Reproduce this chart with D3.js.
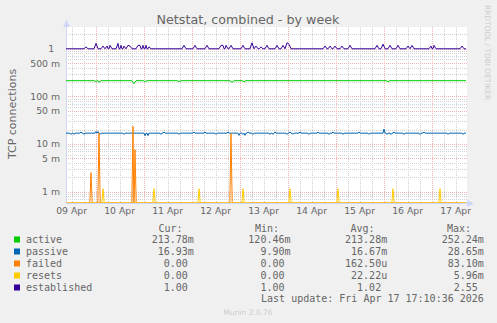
<!DOCTYPE html>
<html><head><meta charset="utf-8">
<script src="https://cdn.jsdelivr.net/npm/d3@7"></script>
<style>
html,body{margin:0;padding:0;background:#f0f0f0;overflow:hidden;}
svg{display:block;}
text{white-space:pre;}
</style></head><body>
<svg id="chart" width="497" height="323"></svg>
<script>
// ---------------- data ----------------
const endTime = "2026-04-17T17:10:36";
const spanHours = 200;           // width of the "by week" window
const dayLabels = ["2026-04-09","2026-04-10","2026-04-11","2026-04-12","2026-04-13","2026-04-14","2026-04-15","2026-04-16","2026-04-17"];
const yDomain = [0.000576, 2.87];
const yTickValues = [1, 0.5, 0.1, 0.05, 0.01, 0.005, 0.001];
const yTickLabels = ["1  ", "500 m", "100 m", "50 m", "10 m", "5 m", "1 m"];

const seriesNames  = ["active", "passive", "failed", "resets", "established"];
const seriesColors = ["#00cc00", "#0066b3", "#ff8000", "#ffcc00", "#330099"];

// baseline value of each series and the samples (hours from window start, value) that differ from it
const activeBase = 0.2138;
const activeSamples = [[15,0.205],[16.5,0.198],[34,0.185],[39.5,0.205],[56.5,0.205],[83,0.198],[89,0.205],[161,0.205]];

const passiveBase = 0.0169;
const passiveSamples = [[2.5,0.0159],[4,0.0159],[7.5,0.0179],[9,0.0159],[15,0.0183],[16,0.0183],[17,0.0159],[29,0.0159],
  [39.5,0.0150],[41,0.0150],[47.5,0.0159],[49,0.0179],[56.5,0.0159],[64,0.0179],[69.5,0.0179],[75,0.0159],[81,0.0179],
  [86.5,0.0152],[88.5,0.0159],[89.5,0.0152],[91,0.0179],[93.5,0.0159],[102,0.0159],[103.5,0.0159],[104.5,0.0179],
  [110.5,0.0159],[112,0.0179],[113.5,0.0159],[117,0.0179],[121.5,0.0159],[126,0.0179],[131.5,0.0159],[133.5,0.0179],
  [138.5,0.0159],[146.5,0.0179],[151.5,0.0159],[159,0.0205],[160.5,0.0159],[162.5,0.0159],[164,0.0179],[169,0.0159],
  [177,0.0159],[179,0.0179],[191,0.0159],[198.5,0.0159]];

const failedBase = 0;
const failedSamples = [[12.5,0.0025],[16.5,0.0170],[33.5,0.0235],[34.5,0.0076],[82.5,0.0165]];

const resetsBase = 0;
const resetsSamples = [[18.5,0.00115],[44,0.00115],[66.5,0.00115],[88.5,0.00115],[112,0.00115],[136,0.00115],[163.5,0.00115],[187,0.00115]];

const establishedBase = 1.0;
const establishedSamples = [[10,1.10],[15,1.30],[18.5,1.14],[20.5,1.14],[22,1.18],[26,1.30],[27.5,1.18],[29,1.14],[31,1.18],
  [32,1.14],[36,1.18],[37,1.18],[38.5,1.18],[40,1.18],[41.5,1.10],[59,1.18],[64.5,1.18],[70.5,1.18],[77.5,1.18],[78.5,1.18],
  [80,1.18],[82.5,1.18],[88.5,1.18],[93,1.34],[95,1.14],[97.5,1.10],[100.5,1.18],[105.5,1.18],[108.5,1.18],[110.5,1.34],
  [111.5,1.25],[129.5,1.14],[132,1.14],[134.5,1.14],[138,1.14],[142,1.18],[155.5,1.18],[158.5,1.25],[162,1.18],[166,1.18],
  [171,1.14],[173,1.18],[182.5,1.14],[184,1.18],[198,1.14]];

const legendCur = ["213.78m", "16.93m", "0.00 ", "0.00 ", "1.00 "];
const legendMin = ["120.46m", "9.90m", "0.00 ", "0.00 ", "1.00 "];
const legendAvg = ["213.28m", "16.67m", "162.50u", "22.22u", "1.02 "];
const legendMax = ["252.24m", "28.65m", "83.10m", "5.96m", "2.55 "];
const legendHeaders = ["Cur:", "Min:", "Avg:", "Max:"];

const titleText = "Netstat, combined - by week";
const yTitle = "TCP connections";
const lastUpdate = "Last update: Fri Apr 17 17:10:36 2026";
const sideText = "RRDTOOL / TOBI OETIKER";
const footerText = "Munin 2.0.76";

// ---------------- drawing ----------------
const svg = d3.select("#chart");
const W = 497, H = 323;
const plot = {left: 66, right: 466, top: 27, bottom: 203};
const HOUR = 3600e3;
const end = new Date(endTime);
const start = new Date(end.getTime() - spanHours * HOUR);

const x = d3.scaleTime().domain([start, end]).range([plot.left, plot.right]);
const y = d3.scaleLog().domain(yDomain).range([plot.bottom, plot.top]);
const yPos = v => v > 0 ? y(v) : plot.bottom;

svg.append("rect").attr("width", W).attr("height", H).attr("fill", "#f0f0f0");
svg.append("rect").attr("x", plot.left).attr("y", plot.top)
  .attr("width", plot.right - plot.left + 1).attr("height", plot.bottom - plot.top)
  .attr("fill", "#ffffff");

// grid
const grid = svg.append("g");
const minorY = [];
for (let e = -4; e <= 0; e++) for (const m of [2,3,4,6,7,8,9]) {
  const v = m * Math.pow(10, e);
  if (v >= yDomain[0] && v <= yDomain[1]) minorY.push(v);
}
const majorY = [];
for (let e = -4; e <= 0; e++) for (const m of [1,5]) {
  const v = m * Math.pow(10, e);
  if (v >= yDomain[0] && v <= yDomain[1]) majorY.push(v);
}
const minorX = x.ticks(d3.timeHour.every(6)).filter(t => t.getHours() !== 0);
const majorX = x.ticks(d3.timeDay.every(1));

const minorColor = "#d2d2d2", majorColor = "#f0b4b4";
grid.selectAll(".mnx").data(minorX).join("line")
  .attr("x1", d => Math.round(x(d)) + 0.5).attr("x2", d => Math.round(x(d)) + 0.5)
  .attr("y1", plot.top).attr("y2", plot.bottom)
  .attr("stroke", minorColor).attr("stroke-dasharray", "1,1");
grid.selectAll(".mny").data(minorY).join("line")
  .attr("x1", plot.left).attr("x2", plot.right + 1)
  .attr("y1", d => Math.round(y(d)) + 0.5).attr("y2", d => Math.round(y(d)) + 0.5)
  .attr("stroke", minorColor).attr("stroke-dasharray", "1,1");
grid.selectAll(".mjx").data(majorX).join("line")
  .attr("x1", d => Math.round(x(d)) + 0.5).attr("x2", d => Math.round(x(d)) + 0.5)
  .attr("y1", plot.top).attr("y2", plot.bottom)
  .attr("stroke", majorColor).attr("stroke-dasharray", "1,1");
grid.selectAll(".mjy").data(majorY).join("line")
  .attr("x1", plot.left).attr("x2", plot.right + 1)
  .attr("y1", d => Math.round(y(d)) + 0.5).attr("y2", d => Math.round(y(d)) + 0.5)
  .attr("stroke", majorColor).attr("stroke-dasharray", "1,1");

// axes
const axisColor = "#cfd6f8";
svg.append("line").attr("x1", plot.left + 0.5).attr("x2", plot.left + 0.5)
  .attr("y1", plot.bottom + 1).attr("y2", plot.top - 4).attr("stroke", axisColor);
svg.append("line").attr("x1", plot.left).attr("x2", plot.right + 4)
  .attr("y1", plot.bottom + 0.5).attr("y2", plot.bottom + 0.5).attr("stroke", axisColor);
svg.append("path").attr("d", `M${plot.left - 3},${plot.top} L${plot.left + 0.5},${plot.top - 7} L${plot.left + 4},${plot.top} Z`).attr("fill", axisColor);
svg.append("path").attr("d", `M${plot.right + 1},${plot.bottom - 3} L${plot.right + 8},${plot.bottom + 0.5} L${plot.right + 1},${plot.bottom + 4} Z`).attr("fill", axisColor);

// series: each listed sample is joined to the baseline at the neighbouring points
function buildPoints(base, samples, half) {
  const m = new Map(samples.map(d => [d[0], d[1]]));
  const hours = new Set([0, spanHours]);
  samples.forEach(([h]) => {
    hours.add(h);
    if (!m.has(h - half)) hours.add(h - half);
    if (!m.has(h + half)) hours.add(h + half);
  });
  return Array.from(hours).sort((a, b) => a - b)
    .map(h => ({t: new Date(start.getTime() + h * HOUR), v: m.has(h) ? m.get(h) : base}));
}
const seriesData = [
  buildPoints(activeBase, activeSamples, 1),
  buildPoints(passiveBase, passiveSamples, 0.5),
  buildPoints(failedBase, failedSamples, 0.6),
  buildPoints(resetsBase, resetsSamples, 0.6),
  buildPoints(establishedBase, establishedSamples, 1)
];
svg.append("defs").append("clipPath").attr("id", "clip").append("rect")
  .attr("x", plot.left).attr("y", plot.top - 2).attr("width", plot.right - plot.left + 1).attr("height", plot.bottom - plot.top + 2);
const line = d3.line().x(d => x(d.t)).y(d => yPos(d.v));
svg.append("g").attr("clip-path", "url(#clip)")
  .selectAll("path").data(seriesData).join("path")
  .attr("d", line).attr("fill", "none")
  .attr("stroke", (d, i) => seriesColors[i]).attr("stroke-width", 1);

// tick labels
const fontColor = "#666666";
const tickFont = "DejaVu Sans";
svg.append("g").selectAll("text").data(yTickValues).join("text")
  .attr("x", plot.left - 6).attr("y", d => y(d) + 3.4)
  .attr("text-anchor", "end").attr("font-family", tickFont).attr("font-size", 9.3)
  .attr("fill", fontColor).text((d, i) => yTickLabels[i]);
const dayParse = d3.timeParse("%Y-%m-%d");
const dayFmt = d3.timeFormat("%d %b");
svg.append("g").selectAll("text").data(dayLabels).join("text")
  .attr("x", d => x(d3.timeHour.offset(dayParse(d), 12)))
  .attr("y", 213.5).attr("text-anchor", "middle")
  .attr("font-family", tickFont).attr("font-size", 9.3).attr("fill", fontColor)
  .text(d => dayFmt(dayParse(d)));

// titles
svg.append("text").attr("x", 248).attr("y", 23.5).attr("text-anchor", "middle")
  .attr("font-family", "DejaVu Sans").attr("font-size", 12.7).attr("fill", fontColor).text(titleText);
svg.append("text").attr("transform", "translate(15.5,114) rotate(-90)").attr("text-anchor", "middle")
  .attr("font-family", "DejaVu Sans").attr("font-size", 11).attr("fill", fontColor).text(yTitle);
svg.append("text").attr("transform", "translate(485,5) rotate(90)").attr("text-anchor", "start")
  .attr("font-family", "DejaVu Sans").attr("font-size", 7.4).attr("fill", "#cccccc").text(sideText);
svg.append("text").attr("x", 248).attr("y", 315).attr("text-anchor", "middle")
  .attr("font-family", "DejaVu Sans").attr("font-size", 7.5).attr("fill", "#cccccc").text(footerText);

// legend
const mono = "DejaVu Sans Mono";
const lg = svg.append("g").attr("font-family", mono).attr("font-size", 10).attr("fill", fontColor);
const headerX = [182.5, 279, 374.5, 471];
legendHeaders.forEach((h, i) => lg.append("text").attr("x", headerX[i]).attr("y", 232).attr("text-anchor", "end").text(h));
const rowY = [243, 255, 267, 279, 291];
const colX = [193.8, 290.5, 387.2, 483.8];
const cols = [legendCur, legendMin, legendAvg, legendMax];
seriesNames.forEach((name, i) => {
  lg.append("rect").attr("x", 14).attr("y", rowY[i] - 6.5).attr("width", 6).attr("height", 6).attr("fill", seriesColors[i]);
  lg.append("text").attr("x", 26).attr("y", rowY[i]).text(name);
  cols.forEach((c, j) => lg.append("text").attr("x", colX[j]).attr("y", rowY[i]).attr("text-anchor", "end").text(c[i]));
});
lg.append("text").attr("x", 483.8).attr("y", 302).attr("text-anchor", "end").text(lastUpdate);
</script>
</body></html>
